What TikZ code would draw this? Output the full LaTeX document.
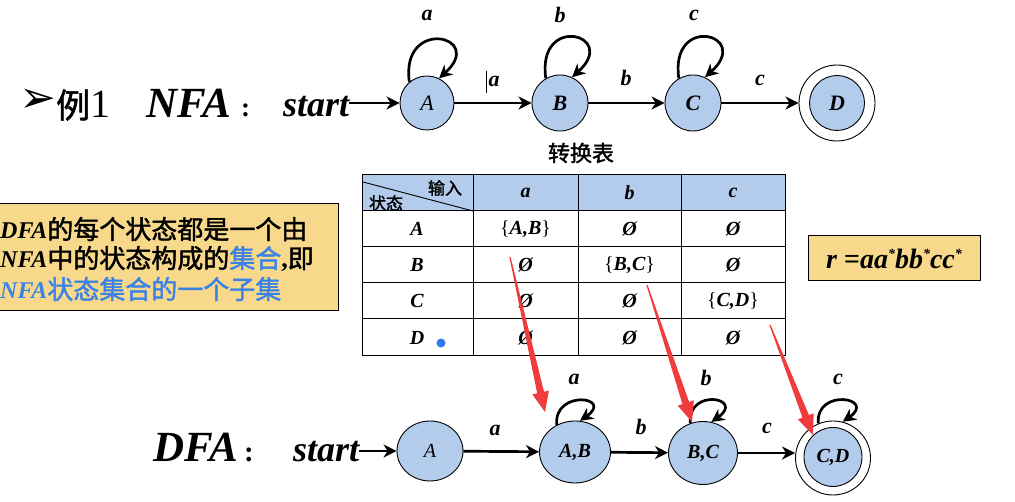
\documentclass[tikz,border=0pt]{standalone}
\usepackage{fontspec}
\setmainfont{Liberation Serif}
\newfontfamily\cjk[AutoFakeBold=1.6]{Noto Sans CJK SC}
\newfontfamily\dejavu{DejaVu Sans}
\usetikzlibrary{arrows.meta,shapes.geometric,calc}
\definecolor{nodeblue}{RGB}{180,204,236}
\definecolor{boxyellow}{RGB}{248,217,140}
\definecolor{textblue}{RGB}{58,130,230}
\definecolor{redarrow}{RGB}{240,60,60}
\definecolor{dotblue}{RGB}{50,120,240}
\newcommand\mysetof[1]{{\normalfont\{}#1{\normalfont\}}}
\newcommand\fs[1]{\fontsize{#1}{#1}\selectfont}
\begin{document}
\begin{tikzpicture}[x=1pt,y=1pt,
  bi/.style={font=\fs{22}\bfseries\itshape},
  st/.style={circle,draw=black,line width=0.9pt,fill=nodeblue,inner sep=0pt,bi},
  dst/.style={ellipse,draw=black,line width=0.9pt,fill=nodeblue,inner sep=0pt,font=\fs{20}\bfseries\itshape},
  acc/.style={draw=black,line width=0.9pt,fill=white,inner sep=0pt},
  edge/.style={line width=2.7pt,-{Stealth[length=13pt,width=13pt,inset=4pt]}},
  lbl/.style={inner sep=0pt,bi},
  big/.style={inner sep=0pt,anchor=base west,font=\fs{43}\bfseries\itshape},
  stxt/.style={inner sep=0pt,anchor=base west,font=\fs{36}\bfseries\itshape},
  cell/.style={inner sep=0pt,font=\fs{20}\bfseries\itshape},
  hdr/.style={inner sep=0pt,font=\fs{17}\cjk\bfseries},
  boxtxt/.style={inner sep=0pt,anchor=base west,font=\fs{26}},
  redtip/.style={fill=redarrow},
  tline/.style={line width=1pt,draw=black}]
\useasboundingbox (0,0) rectangle (1015,502);

% ---------- NFA row ----------
\node[inner sep=0pt,font=\fs{44}\dejavu] (bul) at (38,401) {➢};
\node[inner sep=0pt,anchor=base west,font=\fs{34}\cjk\bfseries] (li) at (56,384) {例};
\node[inner sep=0pt,anchor=base west,font=\fs{40}] (one) at (li.base east) {1};
\node[big] (nfa) at (146,384) {NFA};
\node[inner sep=0pt,anchor=base west,font=\fs{27}\bfseries] (col1) at (241,385) {:};
\node[stxt] (start) at (283,385) {start};

\node[st,minimum size=54pt] (A) at (427,399) {\mdseries A};
\node[st,minimum size=56pt] (B) at (560,399) {B};
\node[st,minimum size=56pt] (C) at (693,399) {C};
\node[acc,circle,minimum size=76pt] (Do) at (837,399) {};
\node[st,minimum size=55pt] (D) at (837,399) {D};

\draw[edge] (start.east |- A.west) -- (A.west);
\draw[edge] (A) -- (B);
\draw[edge] (B) -- (C);
\draw[edge] (C) -- (Do);

\draw[edge] (A.130) .. controls +(98:66) and +(42:64) .. (A.64);
\draw[edge] (B.120) .. controls +(98:66) and +(42:64) .. (B.65);
\draw[edge] (C.120) .. controls +(98:66) and +(42:64) .. (C.65);

\node[lbl] (lla) at (427,487) {a};
\node[lbl] (llb) at (560,487) {b};
\node[lbl] (llc) at (694,487) {c};
\node[lbl] (ea) at (494,421) {a};
\node[lbl] (eb) at (626,424) {b};
\node[lbl] (ec) at (760,422) {c};
\draw[line width=0.9pt] ($(ea.west)+(-2,10)$) -- ($(ea.west)+(-2,-12)$);

% ---------- table ----------
\node[inner sep=0pt,font=\fs{22}\cjk\bfseries] (title) at (581,349) {转换表};
\fill[nodeblue] (362,327) rectangle (785,291);
\draw[tline] (362,327) rectangle (785,146);
\foreach \yy in {291,255,219,183} \draw[tline] (362,\yy) -- (785,\yy);
\foreach \xx in {473,578,681} \draw[tline] (\xx,327) -- (\xx,146);
\draw[line width=0.9pt] (363,320) -- (473,291);
\node[hdr] (inp) at (445,314) {输入};
\node[hdr] (sta) at (386,299) {状态};

\node[cell] (ha) at (525.5,309) {a};
\node[cell] (hb) at (629.5,309) {b};
\node[cell] (hc) at (733,309) {c};

\node[cell] (rA) at (417,273) {A};
\node[cell] (rB) at (417,237) {B};
\node[cell] (rC) at (417,201) {C};
\node[cell] (rD) at (417,164.5) {D};
\fill[dotblue] (441,159) circle (4.5);

\node[cell] (c11) at (525.5,273) {\mysetof{A,B}};
\node[cell] (c12) at (629.5,273) {Ø};
\node[cell] (c13) at (733,273) {Ø};
\node[cell] (c21) at (525.5,237) {Ø};
\node[cell] (c22) at (629.5,237) {\mysetof{B,C}};
\node[cell] (c23) at (733,237) {Ø};
\node[cell] (c31) at (525.5,201) {Ø};
\node[cell] (c32) at (629.5,201) {Ø};
\node[cell] (c33) at (733,201) {\mysetof{C,D}};
\node[cell] (c41) at (525.5,164.5) {Ø};
\node[cell] (c42) at (629.5,164.5) {Ø};
\node[cell] (c43) at (733,164.5) {Ø};

% ---------- left box ----------
\node[draw=black,line width=1pt,fill=boxyellow,minimum width=340pt,minimum height=107pt,inner sep=0pt] (lbox) at (168,244.5) {};
\node[boxtxt] (t1) at (0,263) {\fs{24}\bfseries\itshape DFA\cjk\fs{26}\upshape 的每个状态都是一个由};
\node[boxtxt] (t2) at (0,234) {\fs{24}\bfseries\itshape NFA\cjk\fs{26}\upshape 中的状态构成的\textcolor{textblue}{集合}{\normalfont\bfseries ,}即};
\node[boxtxt,text=textblue] (t3) at (0,203) {\fs{24}\bfseries\itshape NFA\cjk\fs{26}\upshape 状态集合的一个子集};

% ---------- right box ----------
\node[draw=black,line width=1pt,fill=boxyellow,minimum width=172pt,minimum height=45pt,inner sep=0pt,font=\fs{28}\bfseries\itshape] (rbox) at (894,243.5)
 {r {\upshape=}aa\raisebox{10pt}{\fs{14}*}bb\raisebox{10pt}{\fs{14}*}cc\raisebox{10pt}{\fs{14}*}};

% ---------- DFA row ----------
\node[big] (dfa) at (153,40) {DFA};
\node[inner sep=0pt,anchor=base west,font=\fs{29}\bfseries] (col2) at (244,40) {:};
\node[stxt] (dstart) at (293,40) {start};

\node[dst,minimum width=66pt,minimum height=60pt] (dA) at (430,51) {\mdseries A};
\node[dst,minimum width=71pt,minimum height=62pt] (dAB) at (575,50) {A,B};
\node[dst,minimum width=69pt,minimum height=63pt] (dBC) at (703,49) {B,C};
\node[acc,ellipse,minimum width=75pt,minimum height=74pt] (dCDo) at (833,44) {};
\node[dst,minimum width=58pt,minimum height=59pt] (dCD) at (833,45) {C,D};

\draw[edge] (dstart.east |- dA.west) -- (dA.west);
\draw[edge] (dA) -- (dAB);
\draw[edge] (dAB) -- (dBC);
\draw[edge] (dBC.east) -- (dCDo.west |- dBC.east);

\draw[edge] (dAB.124) .. controls +(95:36) and +(35:42) .. (dAB.81);
\draw[edge] (dBC.113) .. controls +(95:36) and +(35:42) .. (dBC.75);
\draw[edge] (dCDo.113) .. controls +(95:36) and +(35:42) .. (dCDo.75);

\node[lbl] (dla) at (574,123) {a};
\node[lbl] (dlb) at (706,124.5) {b};
\node[lbl] (dlc) at (838,123) {c};
\node[lbl] (dea) at (495,72) {a};
\node[lbl] (deb) at (641,75) {b};
\node[lbl] (dec) at (767,73.5) {c};

% ---------- red arrows ----------
\coordinate (s1) at (510,245); \coordinate (e1) at (545,90);
\coordinate (s2) at (647,217); \coordinate (e2) at (692,80);
\coordinate (s3) at (770,177); \coordinate (e3) at (813,67);
\foreach \s/\e in {s1/e1,s2/e2,s3/e3}{
  \coordinate (h) at ($(\e)!20pt!(\s)$);
  \fill[redtip] ($(\s)!0.6pt!90:(\e)$) -- ($(h)!3.5pt!90:(\e)$) -- ($(h)!8.5pt!90:(\e)$) -- (\e)
     -- ($(h)!8.5pt!-90:(\e)$) -- ($(h)!3.5pt!-90:(\e)$) -- ($(\s)!0.6pt!-90:(\e)$) -- cycle;
}
\end{tikzpicture}
\end{document}
